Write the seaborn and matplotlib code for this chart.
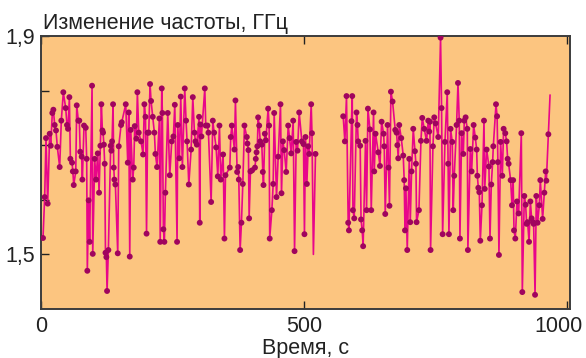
import numpy as np
import pandas as pd
import seaborn as sns
import matplotlib
matplotlib.use("Agg")
import matplotlib.pyplot as plt
import matplotlib.transforms as mtrans

# время, с / частота, ГГц
seg1_time = [3.8, 7.0, 9.5, 12.7, 16.5, 18.5, 21.5, 23.5, 26.0, 28.5, 31.0, 35.5, 38.6, 42.4, 46.9, 49.4, 51.3, 53.9, 55.8, 59.0,
             60.5, 62.2, 66.0, 67.9, 70.9, 72.8, 74.5, 77.3, 78.6, 81.7, 85.0, 86.8, 88.0, 90.5, 92.4, 97.0, 98.3,
             102.0, 104.6, 107.8, 110.3, 112.8, 114.7, 116.6, 117.9, 119.5, 121.0, 122.5, 124.2, 125.5, 128.0, 132.4, 133.7, 135.0, 136.9, 138.2, 139.4,
             141.3, 145.8, 147.7, 152.1, 153.4, 161.0, 164.8, 166.7, 168.6, 170.5, 174.3, 176.2, 178.1, 181.2, 183.1, 185.7, 190.1, 193.9, 196.4, 198.5, 200.5,
             202.5, 204.7, 207.2, 209.1, 212.3, 215.4, 217.3, 220.5, 224.9, 226.5, 229.4, 230.6, 232.5, 234.4, 236.3, 240.8, 244.6, 248.4, 251.5, 254.2,
             258.5, 259.8, 262.9, 265.5, 268.6, 273.1, 275.6, 277.5, 280.8, 285.2, 288.4, 291.5, 293.4, 296.0, 300.3, 301.6, 302.9, 304.8,
             311.2, 313.0, 316.2, 318.1, 323.2, 326.4, 328.9, 332.7, 335.9, 339.0, 341.6, 346.0, 348.5, 350.5, 358.7, 360.5, 362.5, 367.5, 369.4, 372.6,
             374.5, 375.8, 378.3, 380.8, 383.4, 386.5, 391.0, 392.2, 394.1, 395.4, 397.9, 401.1, 406.5, 408.0, 409.5, 411.0, 412.5, 414.5, 416.5, 419.5,
             421.4, 422.7, 425.2, 427.1, 431.5, 433.4, 434.5, 438.6, 441.1, 443.0, 447.4, 450.6, 455.0, 456.9, 459.6, 462.0, 465.8, 469.6, 472.2, 475.3,
             479.1, 481.7, 484.8, 487.4, 490.5, 495.6, 498.7, 500.5, 502.5, 505.1, 507.6, 509.5, 513.3, 514.8, 517.5, 521.5]
seg1_freq = [1.530, 1.605, 1.713, 1.593, 1.721, 1.699, 1.759, 1.765, 1.737, 1.727, 1.697, 1.660, 1.745, 1.797, 1.768, 1.737, 1.730, 1.788, 1.675, 1.668,
             1.652, 1.627, 1.652, 1.773, 1.745, 1.745, 1.688, 1.679, 1.637, 1.736, 1.732, 1.675, 1.470, 1.599, 1.523, 1.809, 1.501,
             1.675, 1.637, 1.685, 1.613, 1.699, 1.775, 1.727, 1.723, 1.701, 1.666, 1.503, 1.495, 1.433, 1.508, 1.699, 1.690, 1.707, 1.775, 1.659, 1.637,
             1.628, 1.502, 1.698, 1.737, 1.742, 1.775, 1.668, 1.760, 1.496, 1.728, 1.637, 1.659, 1.735, 1.712, 1.797, 1.723, 1.707, 1.683, 1.775, 1.752, 1.538,
             1.723, 1.723, 1.812, 1.781, 1.752, 1.723, 1.684, 1.660, 1.749, 1.523, 1.804, 1.759, 1.546, 1.523, 1.613, 1.759, 1.645, 1.707, 1.716, 1.774,
             1.523, 1.737, 1.676, 1.789, 1.660, 1.804, 1.745, 1.707, 1.628, 1.692, 1.788, 1.723, 1.707, 1.701, 1.752, 1.558, 1.738, 1.716,
             1.804, 1.736, 1.736, 1.723, 1.596, 1.745, 1.723, 1.696, 1.643, 1.736, 1.637, 1.683, 1.529, 1.645, 1.659, 1.715, 1.736, 1.692, 1.782, 1.651,
             1.660, 1.637, 1.508, 1.558, 1.629, 1.736, 1.715, 1.703, 1.691, 1.566, 1.652, 1.654, 1.659, 1.675, 1.687, 1.698, 1.751, 1.736, 1.707, 1.701,
             1.651, 1.627, 1.721, 1.709, 1.767, 1.736, 1.529, 1.581, 1.629, 1.759, 1.605, 1.679, 1.775, 1.612, 1.707, 1.691, 1.651, 1.736, 1.713, 1.685,
             1.745, 1.506, 1.706, 1.690, 1.760, 1.707, 1.702, 1.537, 1.715, 1.629, 1.698, 1.684, 1.775, 1.722, 1.500, 1.684]

seg2_time = [574.1, 577.3, 580.4, 583.6, 585.0, 589.9, 591.3, 592.6, 595.1, 599.4, 601.3, 602.6, 606.4, 608.0, 610.2, 612.0, 616.5, 618.5, 621.1, 624.9,
             627.4, 631.8, 633.1, 635.6, 640.7, 644.0, 647.1, 650.9, 652.1, 654.0, 658.4, 660.3, 662.0, 664.8, 667.9, 673.0, 675.5, 677.0, 678.7, 680.6,
             684.4, 688.2, 690.0, 691.5, 693.3, 695.8, 699.6, 701.5, 704.0, 707.2, 710.4, 712.3, 713.5, 718.0, 721.8, 724.3, 728.1, 732.5, 735.7, 737.6,
             738.9, 740.1, 744.6, 747.1, 749.6, 754.7, 759.1, 761.0, 763.0, 767.4, 771.8, 773.5, 775.0, 778.1, 781.3, 783.2, 785.1, 789.5, 792.2,
             794.6, 795.9, 799.1, 802.3, 804.2, 806.7, 809.9, 811.0, 815.6, 818.1, 821.9, 825.1, 827.7, 829.0, 830.8, 832.7, 834.6, 837.8, 841.6, 843.0,
             846.6, 851.0, 853.0, 855.5, 858.0, 859.3, 864.4, 866.5, 868.0, 870.0, 873.2, 876.4, 878.9, 882.1, 884.6, 886.5, 888.4, 892.2, 894.8, 897.0,
             898.6, 901.1, 904.3, 907.4,
             912.5, 914.4, 918.2, 920.7, 922.6, 924.5, 927.2, 929.7, 932.1, 934.8, 935.9, 938.6, 941.0, 943.5, 946.7, 948.6, 953.0, 956.3, 958.8, 960.1,
             963.9, 967.1]
seg2_freq = [1.753, 1.707, 1.790, 1.558, 1.544, 1.744, 1.790, 1.581, 1.566, 1.760, 1.737, 1.707, 1.699, 1.564, 1.544, 1.515, 1.708, 1.581, 1.767, 1.729,
             1.581, 1.760, 1.652, 1.721, 1.687, 1.662, 1.743, 1.721, 1.698, 1.574, 1.737, 1.659, 1.589, 1.798, 1.780, 1.728, 1.723, 1.700, 1.676, 1.737,
             1.713, 1.681, 1.636, 1.544, 1.621, 1.508, 1.675, 1.559, 1.652, 1.730, 1.689, 1.666, 1.559, 1.581, 1.708, 1.750, 1.730, 1.708, 1.745, 1.725,
             1.743, 1.508, 1.698, 1.751, 1.740, 1.715, 1.897, 1.768, 1.537, 1.706, 1.797, 1.666, 1.537, 1.730, 1.706, 1.581, 1.644, 1.737, 1.814,
             1.745, 1.529, 1.722, 1.684, 1.745, 1.751, 1.730, 1.508, 1.693, 1.652, 1.737, 1.714, 1.692, 1.644, 1.622, 1.614, 1.525, 1.590, 1.745, 1.620,
             1.692, 1.661, 1.529, 1.628, 1.669, 1.698, 1.775, 1.753, 1.669, 1.499, 1.706, 1.644, 1.730, 1.722, 1.707, 1.675, 1.666, 1.636, 1.590, 1.636,
             1.544, 1.529, 1.597, 1.575,
             1.722, 1.431, 1.607, 1.591, 1.556, 1.559, 1.523, 1.597, 1.566, 1.559, 1.556, 1.426, 1.607, 1.558, 1.590, 1.636, 1.565, 1.613, 1.652, 1.635,
             1.720, 1.792]

# line ends with no dot drawn on them
undotted = [517.5, 967.1]

xticks = [0, 500, 1000]
xticklabels = ["0", "500", "1000"]
yticks = [1.5, 1.6, 1.7, 1.8, 1.9]
yticklabels = ["1,5", "", "", "", "1,9"]

df = pd.concat([
    pd.DataFrame({"t": seg1_time, "f": seg1_freq, "seg": 1}),
    pd.DataFrame({"t": seg2_time, "f": seg2_freq, "seg": 2}),
], ignore_index=True)
df["dot"] = ~df["t"].isin(undotted)

sns.set_theme(style="ticks")
plt.rcParams['font.family'] = ['Liberation Sans', 'DejaVu Sans']

fig = plt.figure(figsize=(5.86, 3.58), dpi=100)
ax = fig.add_axes([41/586, 1-309/358, 529/586, 273/358])
ax.set_facecolor("#FCC580")

sns.lineplot(data=df, x="t", y="f", units="seg", estimator=None, sort=False,
             color="#E8068A", lw=1.2, ax=ax, zorder=2)
sns.scatterplot(data=df[df["dot"]], x="t", y="f", color="#A0045E", s=18,
                edgecolor="none", ax=ax, zorder=3)

ax.set_xlim(0, 1005)
ax.set_ylim(1.40, 1.90)
ax.set_xticks(xticks)
ax.set_xticklabels(xticklabels)
ax.set_yticks(yticks)
ax.set_yticklabels(yticklabels)
ax.tick_params(axis="both", direction="in", length=6, width=1, colors="#222222",
               labelsize=15.5, pad=4)
ax.tick_params(axis="x", top=True, labeltop=False, pad=5)
ax.set_ylabel("")
ax.set_xlabel("Время, с", fontsize=15.5, color="#222222", labelpad=1)
for s in ax.spines.values():
    s.set_visible(True)
    s.set_color("#3c3c3c")
    s.set_linewidth(1.4)

# the 1000 label sits a little left of its tick
lbl = ax.get_xticklabels()[-1]
lbl.set_transform(lbl.get_transform() + mtrans.ScaledTranslation(-0.09, 0, fig.dpi_scale_trans))

fig.text(43/586, 1-29/358, "Изменение частоты, ГГц", fontsize=15.5,
         color="#222222", va="baseline", ha="left")

fig.savefig("out.png", dpi=100, facecolor="white")
